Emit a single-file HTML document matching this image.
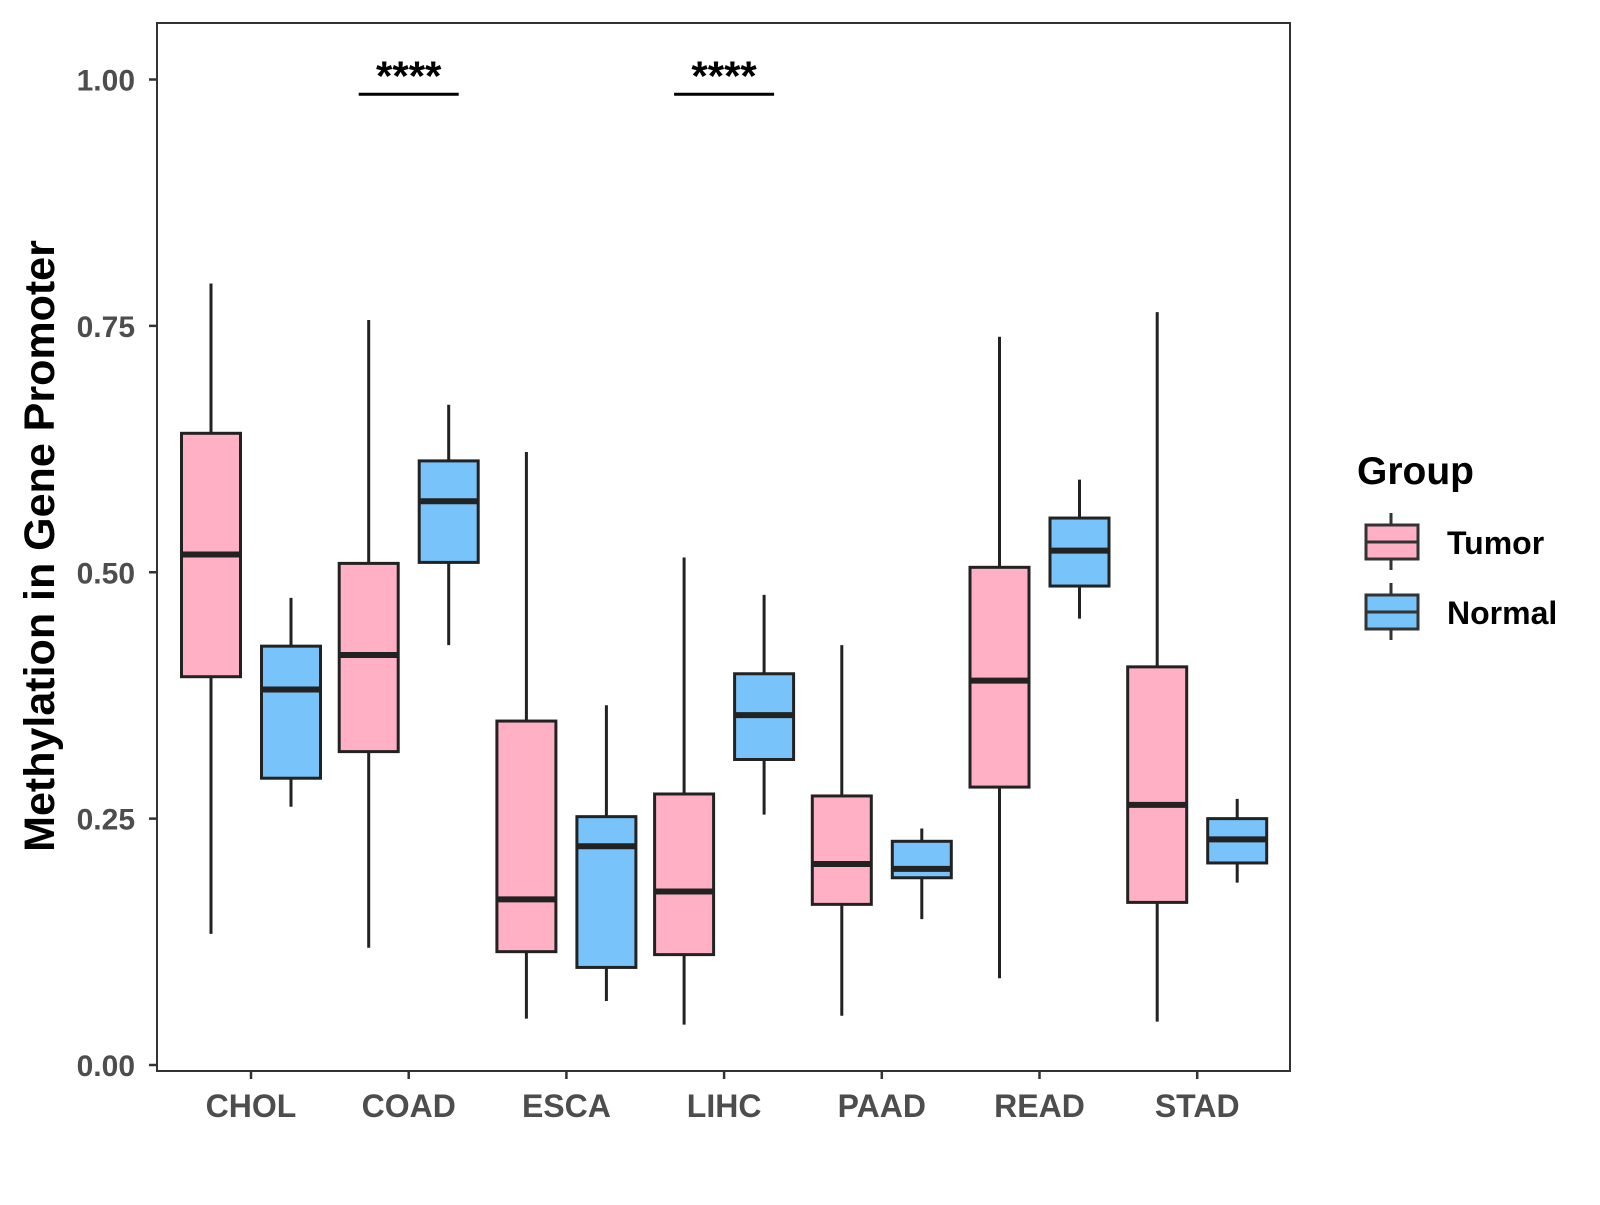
<!DOCTYPE html>
<html><head><meta charset="utf-8"><style>
body{margin:0;background:#fff}
svg text{font-family:"Liberation Sans",Arial,sans-serif;font-weight:bold}
</style></head><body>
<svg id="chart" width="1600" height="1200" viewBox="0 0 1600 1200" xmlns="http://www.w3.org/2000/svg">
<rect x="157" y="23" width="1133" height="1048" fill="#fff" stroke="#333" stroke-width="2"/>
<g id="yaxis"></g>
<g id="xaxis"></g>
<g id="boxes"></g>
<g id="sig"></g>
<text transform="translate(54,546) rotate(-90)" text-anchor="middle" font-size="43" fill="#000">Methylation in Gene Promoter</text>
<g>
<text x="1357" y="484" font-size="39" fill="#000">Group</text>
<g>
<line x1="1391" y1="513" x2="1391" y2="570" stroke="#333" stroke-width="3"/>
<rect x="1366" y="525" width="52" height="34" fill="#FFB0C4" stroke="#333" stroke-width="3"/>
<line x1="1366" y1="542" x2="1418" y2="542" stroke="#333" stroke-width="3"/>
<text x="1447" y="554" font-size="32" fill="#000">Tumor</text>
</g>
<g>
<line x1="1391" y1="583" x2="1391" y2="640" stroke="#333" stroke-width="3"/>
<rect x="1366" y="595" width="52" height="34" fill="#78C3FA" stroke="#333" stroke-width="3"/>
<line x1="1366" y1="612" x2="1418" y2="612" stroke="#333" stroke-width="3"/>
<text x="1447" y="624" font-size="32" fill="#000">Normal</text>
</g>
</g>
</svg>
<script>
const categories=["CHOL","COAD","ESCA","LIHC","PAAD","READ","STAD"];
// [low, q1, median, q3, high]
const tumorStats=[[0.133,0.394,0.518,0.641,0.793],[0.119,0.318,0.416,0.509,0.756],[0.047,0.115,0.168,0.349,0.622],[0.041,0.112,0.176,0.275,0.515],[0.050,0.163,0.204,0.273,0.426],[0.088,0.282,0.390,0.505,0.739],[0.044,0.165,0.264,0.404,0.764]];
const normalStats=[[0.262,0.291,0.381,0.425,0.474],[0.426,0.510,0.572,0.613,0.670],[0.065,0.099,0.222,0.252,0.365],[0.254,0.310,0.355,0.397,0.477],[0.148,0.190,0.199,0.227,0.240],[0.453,0.486,0.522,0.555,0.594],[0.185,0.205,0.229,0.250,0.270]];
const yTicks=[0,0.25,0.5,0.75,1.0];
const yTickLabels=["0.00","0.25","0.50","0.75","1.00"];
const sigCategories=["COAD","LIHC"];
const sigLabels=["****","****"];
const sigLevel=[0.985];

const NS="http://www.w3.org/2000/svg";
function y(v){return 1065-v*985.5;}
function x(i){return 251+i*157.7;}
function mk(tag,attrs,parent){const e=document.createElementNS(NS,tag);for(const k in attrs)e.setAttribute(k,attrs[k]);parent.appendChild(e);return e;}
const ya=document.getElementById('yaxis'),xa=document.getElementById('xaxis'),bx=document.getElementById('boxes'),sg=document.getElementById('sig');
yTicks.forEach((t,i)=>{
  const l=mk('line',{x1:149,x2:157,y1:y(t),y2:y(t),stroke:'#333','stroke-width':2.5},ya);
  
  
  const tx=mk('text',{x:135,y:y(t)+11,'text-anchor':'end','font-size':30,fill:'#4d4d4d'},ya);
  tx.textContent=yTickLabels[i];
  
  
});
categories.forEach((c,i)=>{
  const l=mk('line',{x1:x(i),x2:x(i),y1:1071,y2:1079,stroke:'#333','stroke-width':2.5},xa);
  
  
  const tx=mk('text',{x:x(i),y:1117,'text-anchor':'middle','font-size':32,fill:'#4d4d4d'},xa);
  tx.textContent=c;
  
  
});
function drawBox(cx,s,fill,name){
  const g=mk('g',{},bx);
  
  
  const w=59;
  mk('line',{x1:cx,x2:cx,y1:y(s[0]),y2:y(s[4]),stroke:'#222','stroke-width':3},g);
  mk('rect',{x:cx-w/2,y:y(s[3]),width:w,height:y(s[1])-y(s[3]),fill:fill,stroke:'#222','stroke-width':3},g);
  mk('line',{x1:cx-w/2,x2:cx+w/2,y1:y(s[2]),y2:y(s[2]),stroke:'#222','stroke-width':6},g);
}
categories.forEach((c,i)=>{
  drawBox(x(i)-40,tumorStats[i],'#FFB0C4','box-'+c.toLowerCase()+'-tumor');
  drawBox(x(i)+40,normalStats[i],'#78C3FA','box-'+c.toLowerCase()+'-normal');
});
sigCategories.forEach((c,k)=>{
  const i=categories.indexOf(c);
  const l=mk('line',{x1:x(i)-50,x2:x(i)+50,y1:y(sigLevel[0]),y2:y(sigLevel[0]),stroke:'#000','stroke-width':3},sg);
  
  
  const t=mk('text',{x:x(i),y:y(sigLevel[0])-4,'text-anchor':'middle','font-size':42,fill:'#000'},sg);
  t.textContent=sigLabels[k];
  
  
});
</script>
</body></html>
